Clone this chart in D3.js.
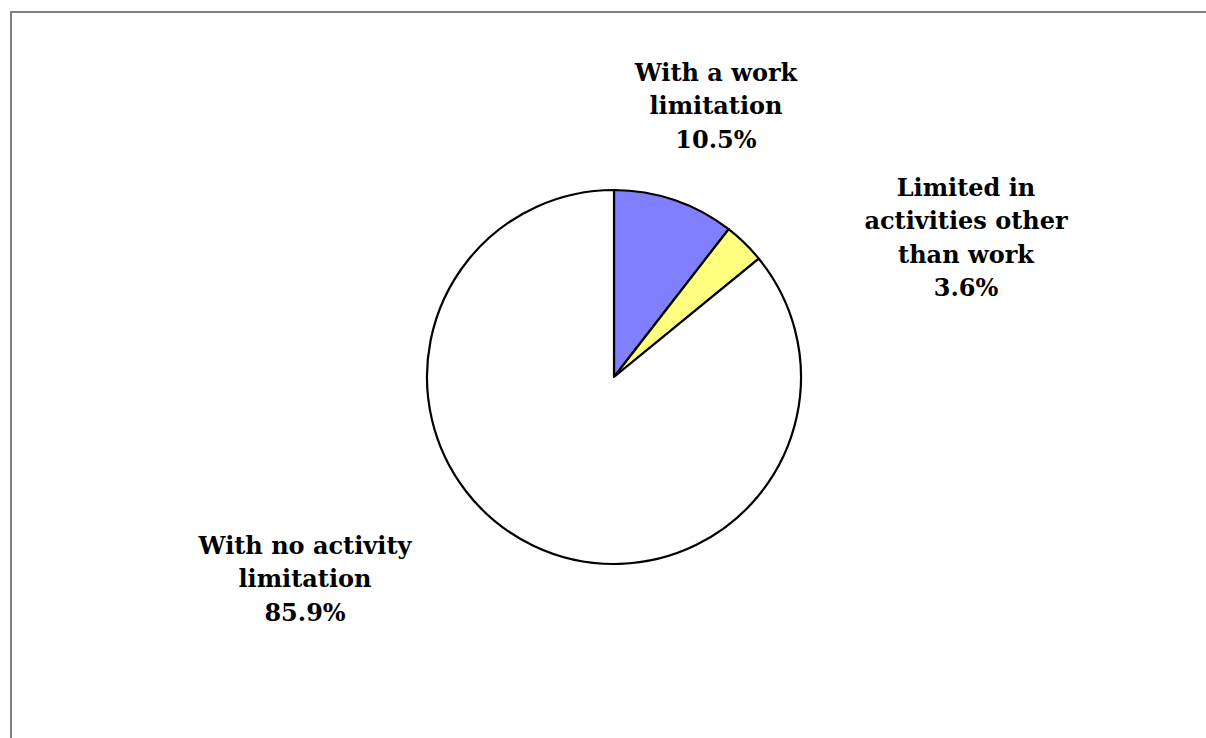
<!DOCTYPE html>
<html>
<head>
<meta charset="utf-8">
<script src="https://cdn.jsdelivr.net/npm/d3@7"></script>
<style>
  html, body { margin: 0; padding: 0; background: #fff; }
  svg { display: block; }
  .lbl { font-family: "DejaVu Serif", "Liberation Serif", serif; font-size: 24px; font-weight: bold; fill: #000; }
</style>
</head>
<body>
<svg id="chart" width="1206" height="738"></svg>
<script>
// Share of population by activity limitation status
const categories = ["With a work limitation", "Limited in activities other than work", "With no activity limitation"];
const values = [10.5, 3.6, 85.9];
const colors = ["#8080FF", "#FFFF80", "#FFFFFF"];
// Label text split into lines
const labelLines = [
  ["With a work", "limitation"],
  ["Limited in", "activities other", "than work"],
  ["With no activity", "limitation"]
];

const W = 1206, H = 738;
const cx = 614, cy = 377, R = 187;
// Label anchors (centre of the text block) relative to the pie centre
const labelAnchors = [[102, -272], [352, -140], [-309, 201]];
const lineH = 33.5;

const svg = d3.select("#chart");

// Plot-area frame (only top and left edges fall inside the window)
svg.append("rect")
  .attr("x", 11).attr("y", 12)
  .attr("width", W + 20).attr("height", H + 20)
  .attr("fill", "none").attr("stroke", "#808080").attr("stroke-width", 2);

const pie = d3.pie().sort(null).value(d => d)
  .startAngle(0).endAngle(2 * Math.PI);
const arc = d3.arc().innerRadius(0).outerRadius(R);

const g = svg.append("g").attr("transform", `translate(${cx},${cy})`);

g.selectAll("path")
  .data(pie(values))
  .join("path")
  .attr("d", arc)
  .attr("fill", (d, i) => colors[i])
  .attr("stroke", "#000")
  .attr("stroke-width", 2.2)
  .attr("stroke-linejoin", "round");

const fmt = d3.format(".1f");
categories.forEach((c, i) => {
  const lines = labelLines[i].concat([fmt(values[i]) + "%"]);
  const n = lines.length;
  const [ax, ay] = labelAnchors[i];
  const t = g.append("text")
    .attr("class", "lbl")
    .attr("text-anchor", "middle")
    .attr("x", ax)
    .attr("y", ay - (n - 1) * lineH / 2)
    .attr("dominant-baseline", "central");
  lines.forEach((ln, k) => {
    t.append("tspan")
      .attr("x", ax)
      .attr("dy", k === 0 ? 0 : lineH)
      .text(ln);
  });
});
</script>
</body>
</html>
